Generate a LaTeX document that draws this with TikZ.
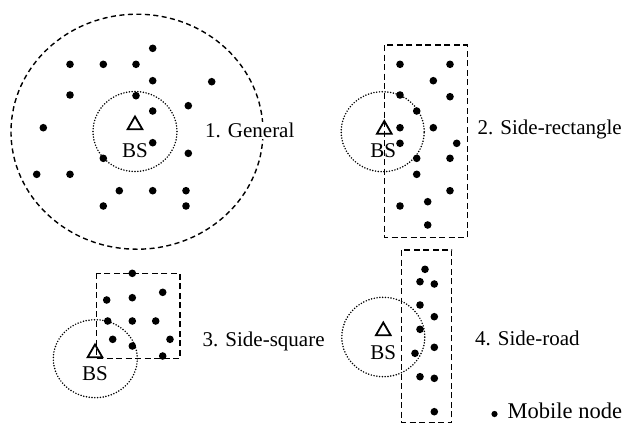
\documentclass[tikz,border=0pt]{standalone}
\usepackage{fontspec}
\setmainfont{Liberation Serif}
\usetikzlibrary{shapes.geometric}
\begin{document}
\begin{tikzpicture}[x=1pt,y=-1pt,
  mnode/.style={circle,fill=black,inner sep=0pt,minimum size=7.6pt},
  legdot/.style={circle,fill=black,inner sep=0pt,minimum size=6.2pt},
  bsmark/.style={regular polygon,regular polygon sides=3,draw=black,line width=1.8pt,
                 inner sep=0pt,minimum size=17pt},
  bstext/.style={font=\fontsize{21}{23}\selectfont,inner sep=0pt,anchor=base},
  caption/.style={font=\fontsize{21}{23}\selectfont,anchor=base west,inner sep=1pt},
  coverage/.style={line width=1.7pt,line cap=round,dash pattern=on 0pt off 2.8pt},
  region/.style={line width=1.4pt,dash pattern=on 6pt off 3.5pt},
  area/.style={line width=1.4pt,dash pattern=on 5pt off 3.5pt}]
\useasboundingbox (0,0) rectangle (626,424);

% ---------- 1. General ----------
\draw[area] (137,131.7) ellipse [x radius=126pt, y radius=117.5pt];
\draw[coverage] (135,131.5) ellipse [x radius=42pt, y radius=40pt];
\node[bsmark] (bs1) at (135,125) {};
\node[bstext] (bs1t) at (135,157.7) {BS};
\foreach \i/\p in {1/{152.7,48.3},2/{70,64.3},3/{103.3,64.3},4/{136,64.3},5/{152.7,80.7},
  6/{211.7,81.7},7/{70,95},8/{136,95.7},9/{152.7,111},10/{188.3,105.7},11/{43.3,127.7},
  12/{152.7,142.7},13/{188.3,153.3},14/{103.3,158.3},15/{36.7,174.3},16/{70,174.3},
  17/{119.3,190.7},18/{152.7,190.7},19/{186,190.7},20/{103.3,206},21/{186,206}}
  \node[mnode] (g\i) at (\p) {};
\node[caption,fill=white] (cap1) at (204,137.3) {1. General};

% ---------- 2. Side-rectangle ----------
\draw[region] (384.3,45) rectangle (467.3,237.3);
\draw[coverage] (382.7,131.7) ellipse [x radius=41.5pt, y radius=40pt];
\node[bsmark] (bs2) at (384.3,129.5) {};
\node[bstext] (bs2t) at (383.3,157.3) {BS};
\foreach \i/\p in {1/{400,64.3},2/{450,64.3},3/{433.3,80.7},4/{400,95},5/{450,96.7},
  6/{416.7,111},7/{400,127.7},8/{433.3,127.7},9/{400,143.3},10/{456.7,143.3},
  11/{416.7,158.3},12/{450,158.3},13/{416.7,174.3},14/{450,190.7},15/{400,206},
  16/{427.7,201.7},17/{427.7,225}}
  \node[mnode] (r\i) at (\p) {};
\node[caption] (cap2) at (476.5,134) {2. Side-rectangle};

% ---------- 3. Side-square ----------
\draw[region] (96.7,273.3) rectangle (180,358.3);
\draw[coverage] (95.3,358.7) ellipse [x radius=42pt, y radius=39pt];
\node[bsmark] (bs3) at (95,353) {};
\node[bstext] (bs3t) at (95,380) {BS};
\foreach \i/\p in {1/{132.3,273.3},2/{162.7,292.3},3/{106.7,300},4/{132.3,297.7},
  5/{107.7,321},6/{132.3,321},7/{155.7,321},8/{112.7,339.3},9/{170,339.3},
  10/{132.3,346},11/{162.7,356}}
  \node[mnode] (s\i) at (\p) {};
\node[caption] (cap3) at (201.5,346) {3. Side-square};

% ---------- 4. Side-road ----------
\draw[region] (401.7,250) rectangle (451.7,422.7);
\draw[coverage] (383.3,337) ellipse [x radius=41.5pt, y radius=39.7pt];
\node[bsmark] (bs4) at (383.3,331) {};
\node[bstext] (bs4t) at (383.3,359.3) {BS};
\foreach \i/\p in {1/{425,269.3},2/{420,281.7},3/{434.3,284},4/{420,305},
  5/{434.3,316.7},6/{420,329.3},7/{434.3,347.3},8/{415,353.3},9/{420,376.7},
  10/{434.3,378.3},11/{434.3,411.7}}
  \node[mnode] (w\i) at (\p) {};
\node[caption] (cap4) at (474,345) {4. Side-road};

% ---------- legend ----------
\node[legdot] (leg) at (494.5,414) {};
\node[caption,font=\fontsize{22.5}{24}\selectfont] (legt) at (506.5,418.3) {Mobile node};
\end{tikzpicture}
\end{document}
